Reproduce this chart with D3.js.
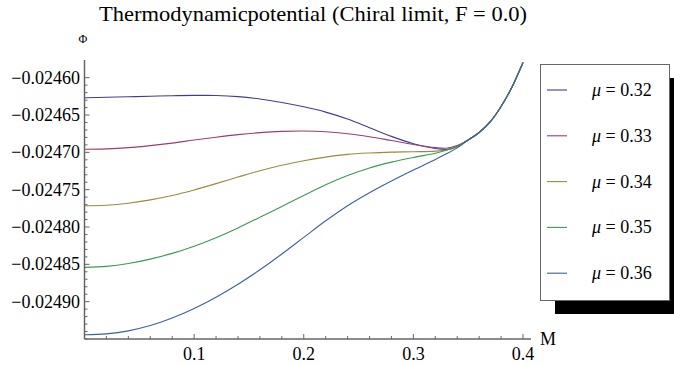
<!DOCTYPE html>
<html>
<head>
<meta charset="utf-8">
<script src="https://cdn.jsdelivr.net/npm/d3@7"></script>
<style>
  html, body { margin: 0; padding: 0; background: #fff; }
  svg { display: block; }
  text { font-family: "Liberation Serif", "Times New Roman", Times, serif; fill: #000; }
</style>
</head>
<body>
<svg id="chart" width="674" height="365"></svg>
<script>
// ---- data ----
const massValues = [0, 0.02, 0.04, 0.06, 0.08, 0.10, 0.12, 0.14, 0.16, 0.18, 0.20, 0.22, 0.24, 0.26, 0.28, 0.30, 0.32, 0.33, 0.34, 0.35, 0.36, 0.37, 0.38, 0.39, 0.40];
const commonTail = [-0.0246834, -0.0246734, -0.0246593, -0.0246386, -0.0246124, -0.0245797];
const mu032 = [-0.0246268, -0.0246262, -0.0246256, -0.0246248, -0.0246241, -0.0246237, -0.0246238, -0.0246253, -0.0246285, -0.0246332, -0.0246390, -0.0246461, -0.0246554, -0.0246669, -0.0246786, -0.0246884, -0.0246948, -0.0246961, -0.0246918].concat(commonTail);
const mu033 = [-0.0246959, -0.0246953, -0.0246937, -0.0246910, -0.0246876, -0.0246835, -0.0246797, -0.0246763, -0.0246736, -0.0246719, -0.0246714, -0.0246723, -0.0246750, -0.0246791, -0.0246842, -0.0246894, -0.0246936, -0.0246944, -0.0246908].concat(commonTail);
const mu034 = [-0.0247715, -0.0247708, -0.0247681, -0.0247637, -0.0247577, -0.0247503, -0.0247419, -0.0247331, -0.0247246, -0.0247173, -0.0247112, -0.0247064, -0.0247027, -0.0247008, -0.0246997, -0.0246992, -0.0246984, -0.0246969, -0.0246928].concat(commonTail);
const mu035 = [-0.0248541, -0.0248527, -0.0248489, -0.0248430, -0.0248353, -0.0248257, -0.0248143, -0.0248012, -0.0247870, -0.0247724, -0.0247578, -0.0247435, -0.0247311, -0.0247209, -0.0247131, -0.0247068, -0.0247013, -0.0246973, -0.0246918].concat(commonTail);
const mu036 = [-0.0249444, -0.0249431, -0.0249391, -0.0249320, -0.0249220, -0.0249092, -0.0248941, -0.0248767, -0.0248573, -0.0248361, -0.0248139, -0.0247917, -0.0247714, -0.0247540, -0.0247384, -0.0247237, -0.0247095, -0.0247020, -0.0246940].concat(commonTail);
const seriesLabels = ["0.32", "0.33", "0.34", "0.35", "0.36"];
const seriesValues = [mu032, mu033, mu034, mu035, mu036];
const seriesColors = ["#3d3d99", "#993d71", "#998b3d", "#3d9951", "#3d6299"];
const xMajorTicks = [0.1, 0.2, 0.3, 0.4];
const yMajorTicks = [-0.02490, -0.02485, -0.02480, -0.02475, -0.02470, -0.02465, -0.02460];
const titleText = "Thermodynamicpotential (Chiral limit, F = 0.0)";

// ---- layout ----
const svg = d3.select("#chart");
const x = d3.scaleLinear().domain([0, 0.4]).range([84.5, 523]);
const y = d3.scaleLinear().domain([-0.02495, -0.02460]).range([339, 77.7]);
const yTopVal = y.invert(60);
const xEndVal = x.invert(531);
const axisColor = "#666";

// title
svg.append("text").attr("x", 99).attr("y", 21)
  .attr("textLength", 428).attr("lengthAdjust", "spacingAndGlyphs")
  .style("font-size", "21px").text(titleText);

// curves
const line = d3.line().x((d, i) => x(massValues[i])).y(d => y(d)).curve(d3.curveCatmullRom.alpha(0.5));
seriesValues.forEach((vals, k) => {
  svg.append("path").attr("d", line(vals)).attr("fill", "none")
    .attr("stroke", seriesColors[k]).attr("stroke-width", 1.1);
});

// y axis
svg.append("line").attr("x1", x(0)).attr("x2", x(0)).attr("y1", y(yTopVal)).attr("y2", y(-0.02495))
  .attr("stroke", axisColor).attr("stroke-width", 1.5);
const yMinor = d3.range(0, 36).map(i => -0.02495 + i * 0.00001).filter(v => v <= yTopVal);
yMinor.forEach(v => {
  const isMajor = yMajorTicks.some(t => Math.abs(t - v) < 1e-9);
  svg.append("line").attr("x1", x(0)).attr("x2", x(0) + (isMajor ? 5 : 3))
    .attr("y1", y(v)).attr("y2", y(v)).attr("stroke", axisColor).attr("stroke-width", 1);
});
yMajorTicks.forEach(v => {
  svg.append("text").attr("x", 80).attr("y", y(v) + 6).attr("text-anchor", "end")
    .style("font-size", "18px").text("\u2212" + Math.abs(v).toFixed(5));
});
svg.append("text").attr("x", 83).attr("y", 43).attr("text-anchor", "middle")
  .style("font-size", "12px").text("\u03A6");

// x axis
svg.append("line").attr("x1", x(0)).attr("x2", x(xEndVal)).attr("y1", y(-0.02495)).attr("y2", y(-0.02495))
  .attr("stroke", axisColor).attr("stroke-width", 1.5);
d3.range(1, 21).map(i => i * 0.02).forEach(v => {
  const isMajor = xMajorTicks.some(t => Math.abs(t - v) < 1e-9);
  svg.append("line").attr("x1", x(v)).attr("x2", x(v))
    .attr("y1", y(-0.02495)).attr("y2", y(-0.02495) - (isMajor ? 5 : 3))
    .attr("stroke", axisColor).attr("stroke-width", 1);
});
xMajorTicks.forEach(v => {
  svg.append("text").attr("x", x(v)).attr("y", 360).attr("text-anchor", "middle")
    .style("font-size", "18px").text(v.toFixed(1));
});
svg.append("text").attr("x", 540).attr("y", 345).style("font-size", "18px").text("M");

// legend
const lg = svg.append("g");
lg.append("rect").attr("x", 555).attr("y", 78).attr("width", 129).attr("height", 236).attr("fill", "#000");
lg.append("rect").attr("x", 540.5).attr("y", 64.5).attr("width", 129).attr("height", 236)
  .attr("fill", "#fff").attr("stroke", "#666").attr("stroke-width", 1);
seriesLabels.forEach((lab, k) => {
  const ry = 90 + k * 45.8;
  lg.append("line").attr("x1", 547).attr("x2", 567).attr("y1", ry).attr("y2", ry)
    .attr("stroke", seriesColors[k]).attr("stroke-width", 1.1);
  const t = lg.append("text").attr("x", 592).attr("y", ry + 6).style("font-size", "18px");
  t.append("tspan").style("font-style", "italic").text("\u03BC");
  t.append("tspan").text(" = " + lab);
});
</script>
</body>
</html>
